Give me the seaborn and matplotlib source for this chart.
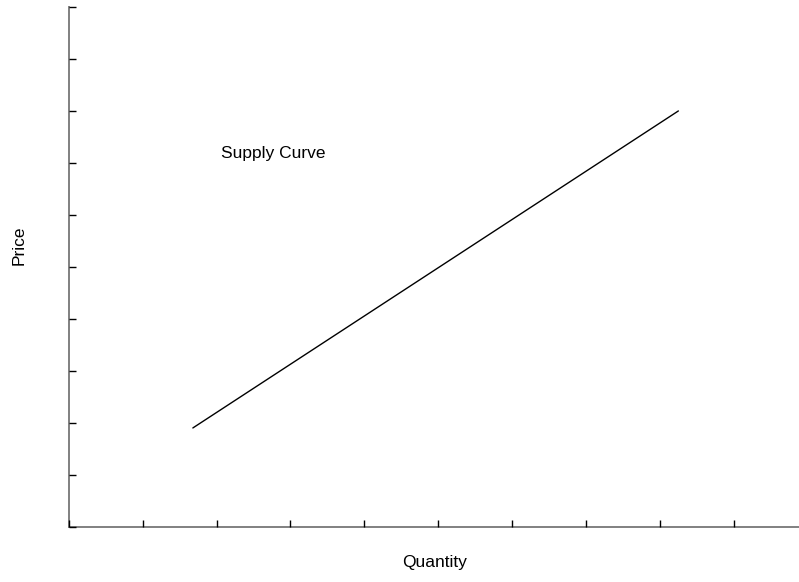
import matplotlib
matplotlib.use("Agg")
import matplotlib.pyplot as plt
import seaborn as sns
import pandas as pd

# Supply curve endpoints
quantity = [1.68, 8.25]
price = [1.90, 8.00]
x_ticks = [0, 1, 2, 3, 4, 5, 6, 7, 8, 9, 10]
y_ticks = [0, 1, 2, 3, 4, 5, 6, 7, 8, 9, 10]

df = pd.DataFrame({"Quantity": quantity, "Price": price})

sns.set_style("white")
plt.rcParams['font.family'] = ['Liberation Sans', 'DejaVu Sans']
plt.rcParams['text.color'] = 'black'
plt.rcParams['axes.labelcolor'] = 'black'

fig = plt.figure(figsize=(7.99, 5.82), dpi=100)
ax = fig.add_axes([68.7 / 799, (582 - 526.7) / 582, 739 / 799, 519.7 / 582])

sns.lineplot(data=df, x="Quantity", y="Price", color="black", linewidth=1.0, ax=ax)

ax.set_xlim(0, 10)
ax.set_ylim(0, 10)
ax.set_xticks(x_ticks)
ax.set_yticks(y_ticks)
ax.set_xticklabels([])
ax.set_yticklabels([])
ax.tick_params(direction="in", length=5, width=1.0, color="black",
               bottom=True, left=True)

for side in ["top", "right"]:
    ax.spines[side].set_visible(False)
for side in ["bottom", "left"]:
    ax.spines[side].set_color("#808080")
    ax.spines[side].set_linewidth(1.4)
    ax.spines[side].set_zorder(0.5)

ax.text(2.06, 7.19, "Supply Curve", fontsize=12.5, va="center", ha="left",
        color="black")

ax.set_xlabel("Quantity", fontsize=12.5, va="center", color="black")
ax.set_ylabel("Price", fontsize=12.5, va="center", color="black")
ax.xaxis.set_label_coords(0.4957, -0.0698)
ax.yaxis.set_label_coords(-0.0665, 0.542)

fig.savefig("out.png", dpi=100)
